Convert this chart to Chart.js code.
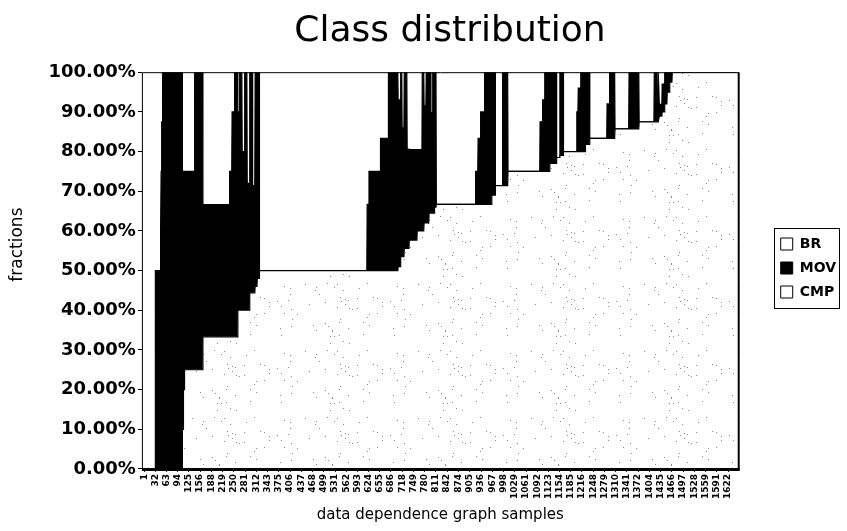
<!DOCTYPE html>
<html>
<head>
<meta charset="utf-8">
<title>Class distribution</title>
<script src="https://cdn.jsdelivr.net/npm/chart.js@4.4.1/dist/chart.umd.min.js"></script>
<style>
  html, body { margin: 0; padding: 0; background: #fff; }
  #wrap { width: 847px; height: 531px; }
</style>
</head>
<body>
<div id="wrap"><canvas id="chart" width="847" height="531"></canvas></div>
<script>
// Samples are sorted by BR share, then by MOV share; runs of equal shares
// are stored as the last sample index of each run.
const totalSamples = 1645;
const runEnd = [
  31, 45, 47, 49, 51, 106, 109, 112, 140, 163,
  237, 244, 251, 260, 265, 272, 279, 286, 293, 301,
  308, 314, 320, 619, 624, 656, 678, 705, 712, 716,
  722, 730, 736, 758, 772, 777, 783, 791, 796, 801,
  806, 811, 920, 927, 934, 945, 965, 975, 995, 1010,
  1099, 1106, 1112, 1126, 1145, 1154, 1164, 1201, 1205, 1212,
  1225, 1237, 1285, 1292, 1307, 1346, 1374, 1416, 1423, 1427,
  1430, 1438, 1445, 1452, 1459, 1466, 1645
];
const brShare = [
  0, 0, 0, 0, 0, 0, 10, 20, 25, 25,
  33.3, 33.3, 33.3, 33.3, 40, 40, 40, 40, 40, 44.4,
  44.4, 46, 48, 50, 50, 50, 50, 50, 51, 53.5,
  53.5, 55.6, 55.6, 57.7, 60, 60, 62, 62, 64.5, 64.5,
  64.5, 66, 66.7, 66.7, 66.7, 66.7, 66.7, 69, 71.4, 71.4,
  75, 75, 75, 75, 77, 78.5, 79, 80, 80, 80,
  80, 81.8, 83.3, 83.3, 83.3, 85.7, 85.7, 87.5, 87.5, 87.5,
  87.5, 88.9, 90, 92, 95, 97.5, 100
];
const movShare = [
  0, 50, 60, 75, 87.5, 100, 65, 55, 50, 75,
  33.3, 41.7, 56.7, 66.7, 50, 60, 40, 60, 32, 55.6,
  27, 54, 52, 0, 16.7, 25, 33.3, 50, 42, 46.5,
  32.5, 44.4, 25, 22.8, 20.5, 40, 29.5, 38, 35.5, 25.3,
  35.5, 34, 0, 8.3, 16.6, 23.3, 33.3, 31, 0, 28.6,
  0, 12.5, 18, 25, 23, 0, 21, 0, 10, 16,
  20, 18.2, 0, 8.7, 16.7, 0, 14.3, 0, 12.5, 5,
  12.5, 3, 7, 8, 5, 2.5, 0
];
const cmpShare = [
  100, 50, 40, 25, 12.5, 0, 25, 25, 25, 0,
  33.4, 25, 10, 0, 10, 0, 20, 0, 28, 0,
  28.6, 0, 0, 50, 33.3, 25, 16.7, 0, 7, 0,
  14, 0, 19.4, 19.5, 19.5, 0, 8.5, 0, 0, 10.2,
  0, 0, 33.3, 25, 16.7, 10, 0, 0, 28.6, 0,
  25, 12.5, 7, 0, 0, 21.5, 0, 20, 10, 4,
  0, 0, 16.7, 8, 0, 14.3, 0, 12.5, 0, 7.5,
  0, 8.1, 3, 0, 0, 0, 0
];
const sampleTicks = [
  1, 32, 63, 94, 125, 156, 188, 219, 250, 281,
  312, 343, 375, 406, 437, 468, 499, 531, 562, 593,
  624, 655, 686, 718, 749, 780, 811, 842, 874, 905,
  936, 967, 998, 1029, 1061, 1092, 1123, 1154, 1185, 1216,
  1248, 1279, 1310, 1341, 1372, 1404, 1435, 1466, 1497, 1528,
  1559, 1591, 1622
];
const seriesNames = ['BR', 'MOV', 'CMP'];

// Expand each run into a flat step: one point at its first and last sample.
function runPoints(values) {
  const pts = [];
  let start = 1;
  runEnd.forEach((end, i) => {
    pts.push({ x: start, y: values[i] });
    if (end > start) pts.push({ x: end, y: values[i] });
    start = end + 1;
  });
  return pts;
}

// Sparse grey speckle used as the BR fill.
function speckle() {
  const c = document.createElement('canvas');
  c.width = 113; c.height = 67;
  const g = c.getContext('2d');
  g.fillStyle = '#fff';
  g.fillRect(0, 0, c.width, c.height);
  g.fillStyle = 'rgba(60,60,60,0.6)';
  for (let i = 0; i < 60; i++) {
    const x = (i * i * 7 + i * 31) % 113;
    const y = (i * i * 13 + i * 17) % 67;
    g.fillRect(x, y, 1, 1);
  }
  return g.createPattern(c, 'repeat');
}

// Shift a block's drawing without touching the layout.
function offsetDraw(obj, key, dx, dy) {
  if (!obj || obj['_off_' + key]) return;
  const orig = obj[key];
  obj[key] = function () {
    const ctx = this.ctx;
    ctx.save();
    ctx.translate(dx, dy);
    const r = orig.apply(this, arguments);
    ctx.restore();
    return r;
  };
  obj['_off_' + key] = true;
}

const LEGEND_DY = 5;

const plotFrame = {
  id: 'plotFrame',
  beforeDraw(chart) {
    offsetDraw(chart.titleBlock, 'draw', 25, 0);
    offsetDraw(chart.legend, 'draw', 0, LEGEND_DY);
    offsetDraw(chart.scales.y, 'drawTitle', 0, -26);
  },
  afterDatasetsDraw(chart) {
    const { ctx, chartArea: a } = chart;
    ctx.save();
    ctx.strokeStyle = '#000';
    ctx.lineWidth = 1;
    ctx.beginPath();
    ctx.moveTo(a.left + 0.5, a.bottom);
    ctx.lineTo(a.left + 0.5, a.top + 0.5);
    ctx.lineTo(a.right, a.top + 0.5);
    ctx.stroke();
    ctx.lineWidth = 2;
    ctx.beginPath();
    ctx.moveTo(a.right, a.top);
    ctx.lineTo(a.right, a.bottom + 1);
    ctx.stroke();
    ctx.lineWidth = 3;
    ctx.beginPath();
    ctx.moveTo(a.left, a.bottom + 0.5);
    ctx.lineTo(a.right + 1, a.bottom + 0.5);
    ctx.stroke();
    ctx.restore();
  },
  afterDraw(chart) {
    const boxes = chart.legend && chart.legend.legendHitBoxes;
    if (!boxes || !boxes.length) return;
    const l = Math.min(...boxes.map(b => b.left)) - 7;
    const t = Math.min(...boxes.map(b => b.top)) - 9 + LEGEND_DY;
    const r = Math.max(...boxes.map(b => b.left + b.width)) + 3;
    const btm = Math.max(...boxes.map(b => b.top + b.height)) + 9 + LEGEND_DY;
    const ctx = chart.ctx;
    ctx.save();
    ctx.strokeStyle = '#000';
    ctx.lineWidth = 1;
    ctx.strokeRect(Math.round(l) + 0.5, Math.round(t) + 0.5, Math.round(r - l), Math.round(btm - t));
    ctx.restore();
  }
};

Chart.defaults.font.family = "'DejaVu Sans', 'Liberation Sans', sans-serif";
Chart.defaults.color = '#000';

const legendFill = ['#fff', '#000', '#fff'];

new Chart(document.getElementById('chart'), {
  type: 'line',
  data: {
    datasets: [
      {
        label: seriesNames[0],
        data: runPoints(brShare),
        xAxisID: 'x', yAxisID: 'y',
        backgroundColor: speckle(),
        borderColor: '#000',
        borderWidth: 1.2,
        fill: 'origin'
      },
      {
        label: seriesNames[1],
        data: runPoints(movShare),
        xAxisID: 'x', yAxisID: 'y',
        backgroundColor: '#000',
        borderColor: '#000',
        borderWidth: 1.2,
        fill: '-1'
      },
      {
        label: seriesNames[2],
        data: runPoints(cmpShare),
        xAxisID: 'x', yAxisID: 'y',
        backgroundColor: '#fff',
        borderColor: 'rgba(0,0,0,0)',
        borderWidth: 0,
        fill: '-1'
      }
    ]
  },
  options: {
    responsive: false,
    animation: false,
    events: [],
    elements: { point: { radius: 0 }, line: { tension: 0 } },
    layout: { padding: { left: 4, right: 1, top: 0, bottom: 5 } },
    scales: {
      x: {
        type: 'linear',
        min: -5.4,
        max: totalSamples + 6.4,
        afterBuildTicks(axis) {
          axis.ticks = sampleTicks.map(v => ({ value: v }));
        },
        ticks: {
          autoSkip: false,
          minRotation: 90,
          maxRotation: 90,
          padding: 2,
          font: { size: 9, weight: 'bold' },
          callback: v => String(v)
        },
        grid: { display: true, drawOnChartArea: false, drawTicks: true, tickLength: 3, color: '#000' },
        border: { display: false },
        title: {
          display: true,
          text: 'data dependence graph samples',
          font: { size: 15 },
          padding: { top: 5, bottom: 2 }
        }
      },
      y: {
        stacked: true,
        min: 0,
        max: 100,
        ticks: {
          stepSize: 10,
          padding: 2,
          font: { size: 18, weight: 'bold' },
          callback: v => v.toFixed(2) + '%'
        },
        grid: { display: true, drawOnChartArea: false, drawTicks: true, tickLength: 4, color: '#000' },
        border: { display: false },
        title: {
          display: true,
          text: 'fractions',
          font: { size: 17 },
          padding: { top: 3, bottom: 19 }
        }
      },
      // empty strip that keeps the legend clear of the plot
      gap: {
        type: 'linear',
        position: 'right',
        display: true,
        grid: { display: false },
        border: { display: false },
        ticks: { display: false },
        afterFit(axis) { axis.width = 32; }
      }
    },
    plugins: {
      title: {
        display: true,
        text: 'Class distribution',
        font: { size: 36, weight: 'normal' },
        color: '#000',
        padding: { top: 10, bottom: 19 }
      },
      legend: {
        position: 'right',
        align: 'center',
        labels: {
          boxWidth: 12,
          boxHeight: 12,
          padding: 10,
          font: { size: 14, weight: 'bold' },
          color: '#000',
          generateLabels(chart) {
            const items = Chart.defaults.plugins.legend.labels.generateLabels(chart);
            items.forEach((it, i) => {
              it.fillStyle = legendFill[i];
              it.strokeStyle = '#000';
              it.lineWidth = 1;
            });
            return items;
          }
        }
      },
      tooltip: { enabled: false }
    }
  },
  plugins: [plotFrame]
});
</script>
</body>
</html>
